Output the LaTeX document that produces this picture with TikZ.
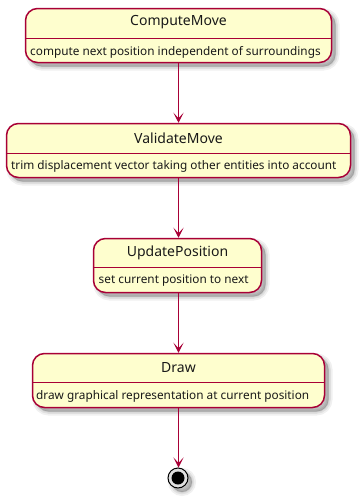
\documentclass[tikz,border=0pt]{standalone}
\usepackage{fontspec}
\setmainfont{Noto Sans}
\usetikzlibrary{shadows,arrows.meta}
\definecolor{statefill}{HTML}{FEFECE}
\definecolor{stateline}{HTML}{A80036}
\tikzset{
  x=1pt, y=1pt,
  % blurred drop shadow built from stacked translucent layers
  softshadow/.style={
    general shadow={shadow xshift=4pt, shadow yshift=-4pt, draw=black, draw opacity=0.06, line width=8pt},
    general shadow={shadow xshift=4pt, shadow yshift=-4pt, draw=black, draw opacity=0.07, line width=4.5pt},
    general shadow={shadow xshift=4pt, shadow yshift=-4pt, draw=black, draw opacity=0.08, line width=1.5pt,
      fill=black, fill opacity=0.22}},
  statebox/.style={draw=stateline, fill=statefill, line width=1.5pt, rounded corners=12pt,
    inner sep=0pt, minimum height=54pt, softshadow},
  divider/.style={draw=stateline, line width=1pt},
  statetitle/.style={font=\fontsize{14}{16}\selectfont, text=black!90, inner sep=0pt},
  statedesc/.style={font=\fontsize{11.8}{14}\selectfont, text=black!90, anchor=west, inner sep=0pt},
  flow/.style={draw=stateline, line width=1pt, -{Stealth[length=10pt, width=10pt, inset=5.5pt]}},
}
\begin{document}
\begin{tikzpicture}
\useasboundingbox (0,0) rectangle (361,-498);

% ComputeMove
\node[statebox, minimum width=306pt] (cm) at (178.5,-35.5) {};
\node[statetitle] (cmT) at (178.5,-22.5) {ComputeMove};
\draw[divider] (cm.west |- 0,-38) -- (cm.east |- 0,-38);
\node[statedesc] (cmD) at (30,-52) {compute next position independent of surroundings};

% ValidateMove
\node[statebox, minimum width=344pt] (vm) at (178.5,-150.5) {};
\node[statetitle] (vmT) at (178.5,-138) {ValidateMove};
\draw[divider] (vm.west |- 0,-153) -- (vm.east |- 0,-153);
\node[statedesc] (vmD) at (11,-166) {trim displacement vector taking other entities into account};

% UpdatePosition
\node[statebox, minimum width=168pt] (up) at (177.5,-265.5) {};
\node[statetitle] (upT) at (177.5,-253) {UpdatePosition};
\draw[divider] (up.west |- 0,-267) -- (up.east |- 0,-267);
\node[statedesc] (upD) at (98.5,-281) {set current position to next};

% Draw
\node[statebox, minimum width=292pt] (dr) at (178.5,-380.5) {};
\node[statetitle] (drT) at (178.5,-368) {Draw};
\draw[divider] (dr.west |- 0,-382) -- (dr.east |- 0,-382);
\node[statedesc] (drD) at (36,-396) {draw graphical representation at current position};

% final state
\node[circle, draw=black, fill=black!12, line width=1pt, minimum size=20pt, inner sep=0pt,
  softshadow] (end) at (178,-478) {};
\node[circle, fill=black, minimum size=13pt, inner sep=0pt] (endDot) at (end.center) {};

% transitions
\draw[flow] (cm.south) -- (vm.north);
\draw[flow] (vm.south) -- (vm.south |- up.north);
\draw[flow] (up.south -| dr.north) -- (dr.north);
\draw[flow] (dr.south) -- (dr.south |- end.north);
\end{tikzpicture}
\end{document}
